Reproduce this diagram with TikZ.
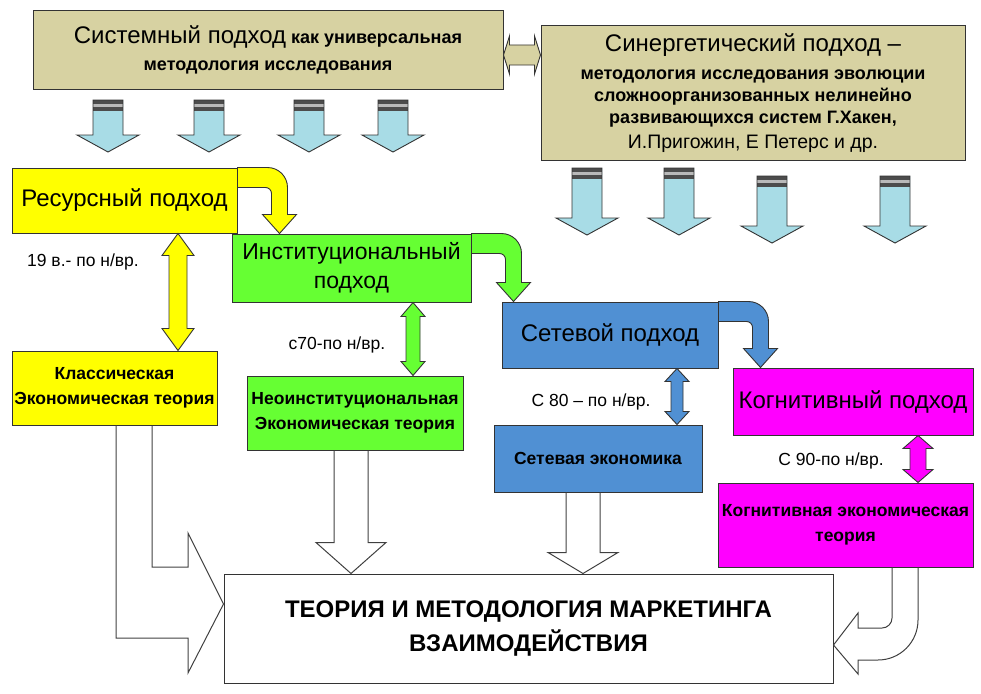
\documentclass[tikz,border=0pt]{standalone}
\usepackage{fontspec}
\setmainfont{Liberation Sans}
\usetikzlibrary{calc}

\definecolor{beige}{HTML}{D7D2A2}
\definecolor{ylw}{HTML}{FFFF00}
\definecolor{grn}{HTML}{66FF33}
\definecolor{blu}{HTML}{5090D3}
\definecolor{mag}{HTML}{FF00FF}
\definecolor{cyanarr}{HTML}{A8DCE6}

\tikzset{
  box/.style={draw=black!80, line width=1pt, align=center, inner sep=1pt},
  big/.style={font=\fontsize{24}{28}\selectfont},
  small/.style={font=\bfseries\fontsize{17.5}{25.5}\selectfont},
  lbl/.style={font=\fontsize{17.5}{20}\selectfont},
  blockarr/.style={draw=black!80, line width=.9pt},
  hollow/.style={draw=black!75, line width=1pt}
}

\newcommand\vdarrow[7]{%
  \coordinate (a) at (#1,0 |- #2.south);
  \coordinate (b) at (#1,0 |- #3.north);
  \draw[blockarr,fill=#4] (a) -- ++(#7,-#5) -- ++(#6-#7,0)
    -- ($(b)+(#6,#5)$) -- ++(#7-#6,0) -- (b)
    -- ++(-#7,#5) -- ++(#7-#6,0) -- ($(a)+(-#6,-#5)$) -- ++(#6-#7,0) -- cycle;}

\newcommand\bendarrow[3]{%
  \coordinate (p) at (#1.north east);
  \coordinate (q) at ($(p)+(42,0)$);
  \coordinate (r) at (q |- #2.north);
  \draw[blockarr,fill=#3] (p) -- ++(30,0) arc[start angle=90,end angle=0,radius=20]
    -- ($(r)+(8,19)$) -- ++(9,0) -- (r) -- ++(-17,19) -- ++(9,0)
    -- ($(p)+(34,-26)$) arc[start angle=0,end angle=90,radius=6]
    -- ($(p)+(0,-20)$) -- cycle;}

\newcommand\hollowdown[4]{%
  \coordinate (a) at (#1,0 |- #2.south);
  \coordinate (b) at (#1,0 |- #3.north);
  \draw[hollow] ($(a)+(-17,0)$) -- ($(b)+(-17,#4)$) -- ++(-18,0) -- (b)
    -- ++(35,#4) -- ++(-18,0) -- ($(a)+(17,0)$);}

\begin{document}
\begin{tikzpicture}[x=1pt,y=1pt]
\useasboundingbox (0,0) rectangle (981,-693);

\node[box,fill=beige,minimum width=470,minimum height=78,font=\bfseries\fontsize{18}{27}\selectfont] (sys) at (268,-50)
  {{\mdseries\fontsize{24}{27}\selectfont Системный подход} как универсальная\\методология исследования};
\node[box,fill=beige,minimum width=424,minimum height=134,font=\bfseries\fontsize{18}{22}\selectfont] (syn) at (753,-93)
  {{\mdseries\fontsize{24}{28}\selectfont Синергетический подход –}\\[6pt]методология исследования эволюции\\сложноорганизованных нелинейно\\развивающихся систем Г.Хакен,\\[3pt]{\mdseries\fontsize{19.5}{22}\selectfont И.Пригожин, Е Петерс и др.}};

\node[box,fill=ylw,minimum width=225,minimum height=65,big] (res) at (124.5,-200.5) {Ресурсный подход};
\node[box,fill=grn,minimum width=239,minimum height=68,font=\fontsize{23}{29}\selectfont] (inst) at (351.5,-268) {Институциональный\\подход};
\node[box,fill=blu,minimum width=216,minimum height=66,big] (setp) at (610,-335) {Сетевой подход};
\node[box,fill=mag,minimum width=240,minimum height=67,big] (kog) at (853,-401.5) {Когнитивный подход};

\node[box,fill=ylw,minimum width=205,minimum height=74,small] (cls) at (114.5,-388) {Классическая\\Экономическая теория};
\node[box,fill=grn,minimum width=216,minimum height=74,small] (neo) at (355,-413) {Неоинституциональная\\Экономическая теория};
\node[box,fill=blu,minimum width=208,minimum height=67,small] (seco) at (598,-458.5) {Сетевая экономика};
\node[box,fill=mag,minimum width=255,minimum height=84,small] (kec) at (845.5,-525) {Когнитивная экономическая\\теория};

\node[box,fill=white,minimum width=609,minimum height=109,font=\bfseries\fontsize{24}{34}\selectfont] (fin) at (528.5,-628.5)
  {ТЕОРИЯ И МЕТОДОЛОГИЯ МАРКЕТИНГА\\ВЗАИМОДЕЙСТВИЯ};

\node[lbl] (t19) at (83,-262) {19 в.- по н/вр.};
\node[lbl] (t70) at (337,-345) {с70-по н/вр.};
\node[lbl] (t80) at (591,-402) {С 80 – по н/вр.};
\node[lbl] (t90) at (831,-461) {С 90-по н/вр.};

\coordinate (h1) at ([yshift=-5]sys.east);
\coordinate (h2) at (syn.west |- h1);
\draw[blockarr,fill=beige] (h1) -- ++(6,19) -- ++(0,-9) -- ($(h2)+(-6,10)$) -- ++(0,9) -- (h2)
  -- ++(-6,-19) -- ++(0,9) -- ($(h1)+(6,-10)$) -- ++(0,-9) -- cycle;

\foreach \cx/\ctop/\cbot in {108/100/152, 209/100/152, 309/100/152, 393/100/152,
                             587/168/235, 679/168/235, 772/176/243, 895/176/243} {
  \fill[cyanarr] (\cx-15,-\ctop) -- (\cx+15,-\ctop) -- (\cx+15,-\cbot+17) -- (\cx+31,-\cbot+17)
    -- (\cx,-\cbot) -- (\cx-31,-\cbot+17) -- (\cx-15,-\cbot+17) -- cycle;
  \fill[black!70] (\cx-15,-\ctop) rectangle (\cx+15,-\ctop-11);
  \fill[gray!55] (\cx-15,-\ctop-4) rectangle (\cx+15,-\ctop-7);
  \draw[blockarr] (\cx-15,-\ctop) -- (\cx+15,-\ctop) -- (\cx+15,-\cbot+17) -- (\cx+31,-\cbot+17)
    -- (\cx,-\cbot) -- (\cx-31,-\cbot+17) -- (\cx-15,-\cbot+17) -- cycle;
}

\bendarrow{res}{inst}{ylw}
\bendarrow{inst}{setp}{grn}
\bendarrow{setp}{kog}{blu}

\vdarrow{178}{res}{cls}{ylw}{22}{9}{16}
\vdarrow{413}{inst}{neo}{grn}{14}{7}{12}
\vdarrow{677}{setp}{seco}{blu}{13}{6}{12}
\vdarrow{918}{kog}{kec}{mag}{13}{8}{15}

\draw[hollow] (116,0 |- cls.south) -- (116,-638) -- (188,-638) -- (188,-673) -- (fin.west |- 0,-604)
  -- (188,-533) -- (188,-567) -- (152,-567) -- (152,0 |- cls.south);
\hollowdown{351}{neo}{fin}{31}
\hollowdown{583}{seco}{fin}{21}
\draw[hollow] (918,0 |- kec.south) -- (918,-620) arc[start angle=0,end angle=-90,radius=40] -- (858,-660)
  -- (858,-674) -- (fin.east |- 0,-645) -- (858,-613) -- (858,-628) -- (882,-628)
  arc[start angle=-90,end angle=0,radius=10] -- (892,0 |- kec.south);
\end{tikzpicture}
\end{document}
